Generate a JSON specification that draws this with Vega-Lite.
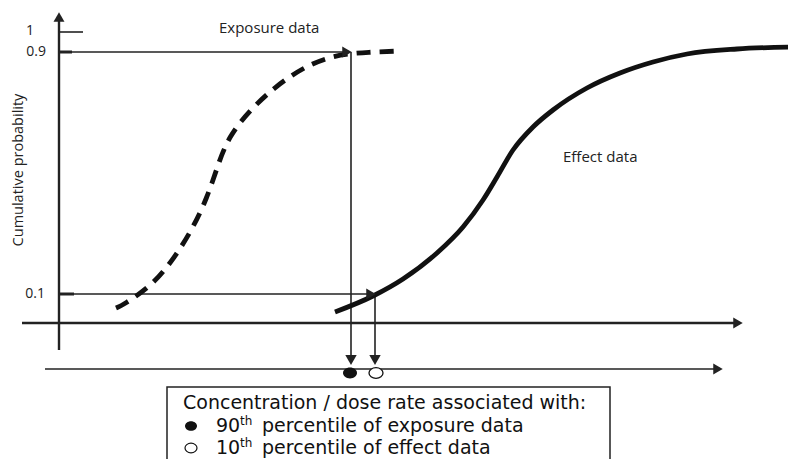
{
  "$schema": "https://vega.github.io/schema/vega-lite/v6.json",
  "width": 788,
  "height": 459,
  "padding": 0,
  "autosize": {"type": "none"},
  "config": {"view": {"stroke": null}, "axis": {"disable": true}},
  "datasets": {
    "thinLines": [
      {"x": 60, "y": 32, "x2": 83, "y2": 32},
      {"x": 60, "y": 52, "x2": 344, "y2": 52},
      {"x": 60, "y": 294, "x2": 368, "y2": 294},
      {"x": 351, "y": 52, "x2": 351, "y2": 360},
      {"x": 375, "y": 296, "x2": 375, "y2": 360},
      {"x": 45, "y": 369, "x2": 716, "y2": 369}
    ],
    "axisLines": [
      {"x": 59, "y": 20, "x2": 59, "y2": 350},
      {"x": 22, "y": 323, "x2": 736, "y2": 323}
    ],
    "ticks": [
      {"x": 60, "y": 52, "x2": 72, "y2": 52},
      {"x": 60, "y": 294, "x2": 74, "y2": 294}
    ],
    "arrowUp": [{"x": 59, "y": 17}],
    "arrowRight": [
      {"x": 347, "y": 52},
      {"x": 371, "y": 294},
      {"x": 738, "y": 323},
      {"x": 718, "y": 369}
    ],
    "arrowDown": [
      {"x": 351, "y": 360},
      {"x": 375, "y": 360}
    ],
    "exposure": [
      {"i": 1, "x": 116, "y": 308},
      {"i": 2, "x": 123, "y": 305},
      {"i": 3, "x": 153, "y": 285},
      {"i": 4, "x": 175, "y": 257},
      {"i": 5, "x": 193, "y": 228},
      {"i": 6, "x": 207, "y": 198},
      {"i": 7, "x": 217, "y": 168},
      {"i": 8, "x": 228, "y": 137},
      {"i": 9, "x": 252, "y": 108},
      {"i": 10, "x": 275, "y": 87},
      {"i": 11, "x": 302, "y": 68},
      {"i": 12, "x": 333, "y": 55},
      {"i": 13, "x": 370, "y": 52},
      {"i": 14, "x": 401, "y": 51}
    ],
    "effect": [
      {"i": 1, "x": 335, "y": 312},
      {"i": 2, "x": 373, "y": 296},
      {"i": 3, "x": 403, "y": 279},
      {"i": 4, "x": 437, "y": 253},
      {"i": 5, "x": 463, "y": 227},
      {"i": 6, "x": 483, "y": 200},
      {"i": 7, "x": 497, "y": 177},
      {"i": 8, "x": 513, "y": 150},
      {"i": 9, "x": 533, "y": 127},
      {"i": 10, "x": 553, "y": 110},
      {"i": 11, "x": 587, "y": 88},
      {"i": 12, "x": 620, "y": 73},
      {"i": 13, "x": 653, "y": 62},
      {"i": 14, "x": 687, "y": 54},
      {"i": 15, "x": 737, "y": 49},
      {"i": 16, "x": 790, "y": 47}
    ],
    "markers": [
      {"x": 350, "y": 373, "kind": "filled"},
      {"x": 376, "y": 373, "kind": "open"}
    ],
    "legendFilled": [{"x": 191, "y": 426}],
    "legendOpen": [{"x": 191, "y": 448}],
    "legendBox": [{"x": 167, "y": 387, "x2": 610, "y2": 475}],
    "tickLabels": [
      {"x": 34, "y": 31, "label": "1"},
      {"x": 46, "y": 52, "label": "0.9"},
      {"x": 45, "y": 294, "label": "0.1"}
    ],
    "curveLabels": [
      {"x": 219, "y": 28, "label": "Exposure data"},
      {"x": 563, "y": 157, "label": "Effect data"}
    ],
    "yTitle": [{"x": 19, "y": 170, "label": "Cumulative probability"}],
    "legendText": [
      {"x": 183, "y": 403, "label": "Concentration / dose rate associated with:"},
      {"x": 216, "y": 426, "label": "90"},
      {"x": 262, "y": 426, "label": "percentile of exposure data"},
      {"x": 216, "y": 448, "label": "10"},
      {"x": 262, "y": 448, "label": "percentile of effect data"}
    ],
    "legendSup": [
      {"x": 240, "y": 421, "label": "th"},
      {"x": 240, "y": 443, "label": "th"}
    ]
  },
  "layer": [
    {
      "data": {"name": "legendBox"},
      "mark": {"type": "rect", "fill": null, "stroke": "#222", "strokeWidth": 1.5},
      "encoding": {
        "x": {"field": "x", "type": "quantitative", "scale": {"domain": [0, 788], "nice": false, "zero": false}},
        "x2": {"field": "x2"},
        "y": {"field": "y", "type": "quantitative", "scale": {"domain": [0, 459], "nice": false, "zero": false, "reverse": true}},
        "y2": {"field": "y2"}
      }
    },
    {
      "data": {"name": "thinLines"},
      "mark": {"type": "rule", "color": "#222", "strokeWidth": 1.6},
      "encoding": {
        "x": {"field": "x", "type": "quantitative"},
        "x2": {"field": "x2"},
        "y": {"field": "y", "type": "quantitative"},
        "y2": {"field": "y2"}
      }
    },
    {
      "data": {"name": "axisLines"},
      "mark": {"type": "rule", "color": "#222", "strokeWidth": 2.4},
      "encoding": {
        "x": {"field": "x", "type": "quantitative"},
        "x2": {"field": "x2"},
        "y": {"field": "y", "type": "quantitative"},
        "y2": {"field": "y2"}
      }
    },
    {
      "data": {"name": "ticks"},
      "mark": {"type": "rule", "color": "#222", "strokeWidth": 3},
      "encoding": {
        "x": {"field": "x", "type": "quantitative"},
        "x2": {"field": "x2"},
        "y": {"field": "y", "type": "quantitative"},
        "y2": {"field": "y2"}
      }
    },
    {
      "data": {"name": "exposure"},
      "mark": {"type": "line", "color": "#111", "strokeWidth": 4.8, "strokeDash": [14, 9], "interpolate": "basis"},
      "encoding": {
        "x": {"field": "x", "type": "quantitative"},
        "y": {"field": "y", "type": "quantitative"},
        "order": {"field": "i"}
      }
    },
    {
      "data": {"name": "effect"},
      "mark": {"type": "line", "color": "#111", "strokeWidth": 4.8, "interpolate": "monotone"},
      "encoding": {
        "x": {"field": "x", "type": "quantitative"},
        "y": {"field": "y", "type": "quantitative"},
        "order": {"field": "i"}
      }
    },
    {
      "data": {"name": "arrowUp"},
      "mark": {"type": "point", "shape": "triangle-up", "filled": true, "color": "#222", "size": 120, "opacity": 1},
      "encoding": {
        "x": {"field": "x", "type": "quantitative"},
        "y": {"field": "y", "type": "quantitative"}
      }
    },
    {
      "data": {"name": "arrowRight"},
      "mark": {"type": "point", "shape": "triangle-right", "filled": true, "color": "#222", "size": 120, "opacity": 1},
      "encoding": {
        "x": {"field": "x", "type": "quantitative"},
        "y": {"field": "y", "type": "quantitative"}
      }
    },
    {
      "data": {"name": "arrowDown"},
      "mark": {"type": "point", "shape": "triangle-down", "filled": true, "color": "#222", "size": 130, "opacity": 1},
      "encoding": {
        "x": {"field": "x", "type": "quantitative"},
        "y": {"field": "y", "type": "quantitative"}
      }
    },
    {
      "data": {"name": "markers"},
      "transform": [{"filter": "datum.kind === 'filled'"}],
      "mark": {"type": "point", "shape": "M-1,0A1,0.78,0,1,0,1,0A1,0.78,0,1,0,-1,0Z", "filled": true, "color": "#111", "size": 196, "opacity": 1},
      "encoding": {
        "x": {"field": "x", "type": "quantitative"},
        "y": {"field": "y", "type": "quantitative"}
      }
    },
    {
      "data": {"name": "markers"},
      "transform": [{"filter": "datum.kind === 'open'"}],
      "mark": {"type": "point", "shape": "M-1,0A1,0.78,0,1,0,1,0A1,0.78,0,1,0,-1,0Z", "filled": true, "fill": "white", "stroke": "#111", "strokeWidth": 1.3, "size": 196, "opacity": 1},
      "encoding": {
        "x": {"field": "x", "type": "quantitative"},
        "y": {"field": "y", "type": "quantitative"}
      }
    },
    {
      "data": {"name": "legendFilled"},
      "mark": {"type": "point", "shape": "M-1,0A1,0.8,0,1,0,1,0A1,0.8,0,1,0,-1,0Z", "filled": true, "color": "#111", "size": 144, "opacity": 1},
      "encoding": {
        "x": {"field": "x", "type": "quantitative"},
        "y": {"field": "y", "type": "quantitative"}
      }
    },
    {
      "data": {"name": "legendOpen"},
      "mark": {"type": "point", "shape": "M-1,0A1,0.8,0,1,0,1,0A1,0.8,0,1,0,-1,0Z", "filled": true, "fill": "white", "stroke": "#111", "strokeWidth": 1.2, "size": 144, "opacity": 1},
      "encoding": {
        "x": {"field": "x", "type": "quantitative"},
        "y": {"field": "y", "type": "quantitative"}
      }
    },
    {
      "data": {"name": "tickLabels"},
      "mark": {"type": "text", "align": "right", "baseline": "middle", "font": "Open Sans", "fontSize": 14, "color": "#222"},
      "encoding": {
        "x": {"field": "x", "type": "quantitative"},
        "y": {"field": "y", "type": "quantitative"},
        "text": {"field": "label"}
      }
    },
    {
      "data": {"name": "curveLabels"},
      "mark": {"type": "text", "align": "left", "baseline": "middle", "font": "Open Sans", "fontSize": 15, "color": "#222"},
      "encoding": {
        "x": {"field": "x", "type": "quantitative"},
        "y": {"field": "y", "type": "quantitative"},
        "text": {"field": "label"}
      }
    },
    {
      "data": {"name": "yTitle"},
      "mark": {"type": "text", "align": "center", "baseline": "middle", "angle": 270, "font": "Open Sans", "fontSize": 14.5, "color": "#222"},
      "encoding": {
        "x": {"field": "x", "type": "quantitative"},
        "y": {"field": "y", "type": "quantitative"},
        "text": {"field": "label"}
      }
    },
    {
      "data": {"name": "legendText"},
      "mark": {"type": "text", "align": "left", "baseline": "middle", "font": "DejaVu Sans", "fontSize": 19, "color": "#111"},
      "encoding": {
        "x": {"field": "x", "type": "quantitative"},
        "y": {"field": "y", "type": "quantitative"},
        "text": {"field": "label"}
      }
    },
    {
      "data": {"name": "legendSup"},
      "mark": {"type": "text", "align": "left", "baseline": "middle", "font": "DejaVu Sans", "fontSize": 12, "color": "#111"},
      "encoding": {
        "x": {"field": "x", "type": "quantitative"},
        "y": {"field": "y", "type": "quantitative"},
        "text": {"field": "label"}
      }
    }
  ]
}
